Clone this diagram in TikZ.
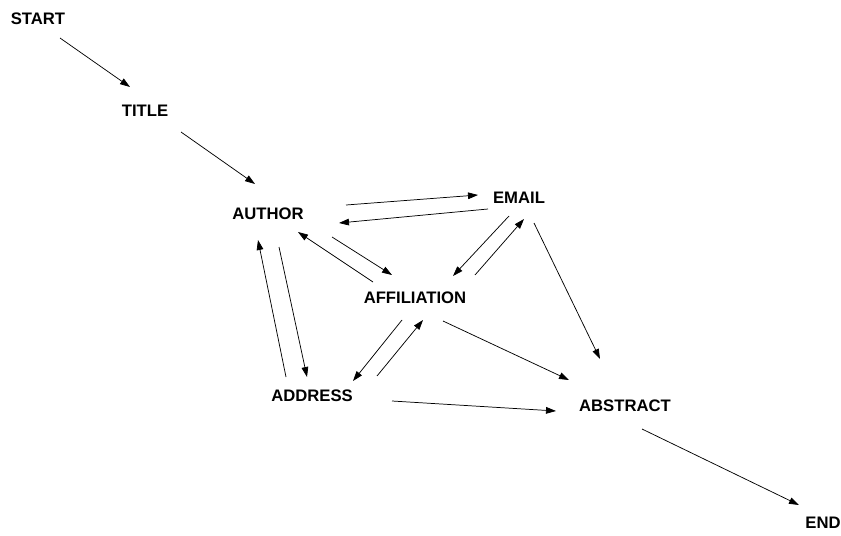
\documentclass[tikz,border=0pt]{standalone}
\usepackage{fontspec}
\setmainfont{Liberation Sans}
\usepackage{tikz}
\usetikzlibrary{arrows.meta}
\usepackage{xcolor}

\begin{document}
\begin{tikzpicture}[x=0.75pt, y=-0.75pt,
	lbl/.style={inner sep=0pt, font=\fontsize{12.5}{15}\selectfont\bfseries},
	arr/.style={black, line width=0.55pt, -{Triangle[length=7.5pt, width=5pt]}}]
			    		\useasboundingbox (0, 0) rectangle (841, 535);
			    		\node[lbl] (start) at ( 38,  19) {START};
			    		\node[lbl] (title) at (145, 111) {TITLE};
			    		\node[lbl] (author) at (268, 214) {AUTHOR};
			    		\node[lbl] (email) at (519, 198) {EMAIL};
			    		\node[lbl] (affil) at (415, 298) {AFFILIATION};
			    		\node[lbl] (address) at (312, 396) {ADDRESS};
			    		\node[lbl] (abstract) at (625, 406) {ABSTRACT};
			    		\node[lbl] (end) at (823, 523) {END};
			    		\draw[arr] ([shift={( 22,  19)}]start.center)--([shift={(-15, -24)}]title.center);
			    		\draw[arr] ([shift={( 36,  21)}]title.center)--([shift={(-13, -30)}]author.center);
			    		\draw[arr] ([shift={( 78,  -9)}]author.center)--([shift={(-41,  -3)}]email.center);
			    		\draw[arr] ([shift={(-31,  11)}]email.center)--([shift={( 71,   9)}]author.center);
			    		\draw[arr] ([shift={(-42, -16)}]affil.center)--([shift={( 30,  18)}]author.center);
			    		\draw[arr] ([shift={( 64,  23)}]author.center)--([shift={(-23, -23)}]affil.center);
			    		\draw[arr] ([shift={(-10,  18)}]email.center)--([shift={( 38, -22)}]affil.center);
			    		\draw[arr] ([shift={( 60, -23)}]affil.center)--([shift={(  5,  21)}]email.center);
			    		\draw[arr] ([shift={( 15,  25)}]email.center)--([shift={(-25, -47)}]abstract.center);
			    		\draw[arr] ([shift={( 28,  23)}]affil.center)--([shift={(-56, -26)}]abstract.center);
			    		\draw[arr] ([shift={(-26, -19)}]address.center)--([shift={(-10,  26)}]author.center);
			    		\draw[arr] ([shift={( 11,  33)}]author.center)--([shift={( -5, -19)}]address.center);
			    		\draw[arr] ([shift={(-13,  22)}]affil.center)--([shift={( 41, -15)}]address.center);
			    		\draw[arr] ([shift={( 65, -20)}]address.center)--([shift={(  8,  22)}]affil.center);
			    		\draw[arr] ([shift={( 80,   5)}]address.center)--([shift={(-69,   5)}]abstract.center);
			    		\draw[arr] ([shift={( 17,  23)}]abstract.center)--([shift={(-24, -18)}]end.center);
\end{tikzpicture}
\end{document}
